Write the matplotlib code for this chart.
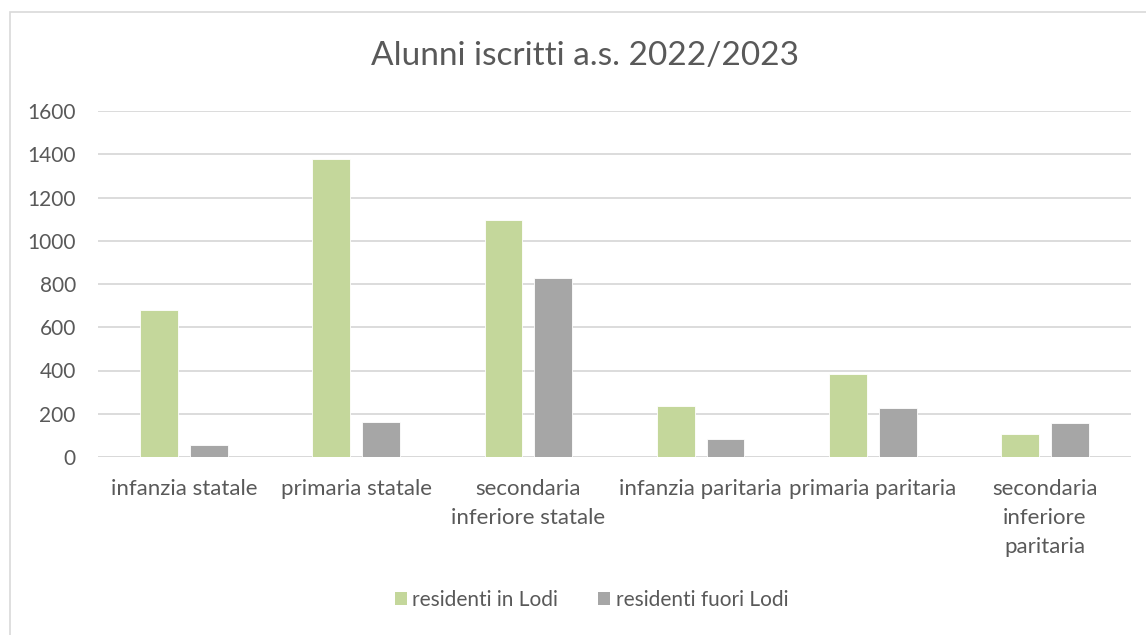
import numpy as np
import matplotlib.pyplot as plt
from matplotlib.patches import Rectangle, Patch

categories = ['infanzia statale', 'primaria statale', 'secondaria\ninferiore statale',
              'infanzia paritaria', 'primaria paritaria', 'secondaria\ninferiore\nparitaria']
residenti_lodi = [681, 1380, 1097, 234, 382, 105]
residenti_fuori = [54, 162, 829, 85, 227, 159]
yticks = [0, 200, 400, 600, 800, 1000, 1200, 1400, 1600]

green = '#c4d79b'
grey = '#a6a6a6'
text_col = '#595959'
grid_col = '#d9d9d9'

plt.rcParams['font.family'] = ['Lato', 'DejaVu Sans']

W, H = 1146, 635
fig = plt.figure(figsize=(W / 100, H / 100), dpi=100)
ax = fig.add_axes([98 / W, 1 - 457 / H, (1131 - 98) / W, (457 - 111) / H])

x = np.arange(len(categories))
w = 0.22
off = 0.145
ax.bar(x - off, residenti_lodi, w, color=green, edgecolor='white', linewidth=0.6,
       label='residenti in Lodi', zorder=3)
ax.bar(x + off, residenti_fuori, w, color=grey, edgecolor='white', linewidth=0.6,
       label='residenti fuori Lodi', zorder=3)

ax.set_xlim(-0.5, len(categories) - 0.5)
ax.set_ylim(0, 1600)
ax.set_yticks(yticks)
ax.set_xticks(x)
ax.set_xticklabels(categories, linespacing=1.55, va='top')
ax.tick_params(axis='both', length=0, colors=text_col, labelsize=15)
ax.tick_params(axis='x', pad=16, labelsize=16)
ax.tick_params(axis='y', pad=16)
ax.yaxis.grid(True, color=grid_col, linewidth=1.3, zorder=0)
for s in ax.spines.values():
    s.set_visible(False)
ax.axhline(0, color=grid_col, linewidth=1.3, zorder=2)

fig.text(0.5105, 1 - 56 / H, 'Alunni iscritti a.s. 2022/2023', ha='center', va='center',
         fontsize=24, color=text_col)

handles = [Patch(facecolor=green, label='residenti in Lodi'),
           Patch(facecolor=grey, label='residenti fuori Lodi')]
fig.legend(handles=handles, loc='center', bbox_to_anchor=(0.516, 1 - 600 / H),
           ncol=2, frameon=False, fontsize=15, labelcolor=text_col,
           handlelength=0.6, handleheight=0.6, handletextpad=0.25, columnspacing=1.9)

# outer chart frame
fig.patches.append(Rectangle((10 / W, -0.5), 2, 1.5 - 12 / H, transform=fig.transFigure,
                             facecolor='none', edgecolor=grid_col, linewidth=1.2, zorder=5))

fig.savefig('out.png', dpi=100)
